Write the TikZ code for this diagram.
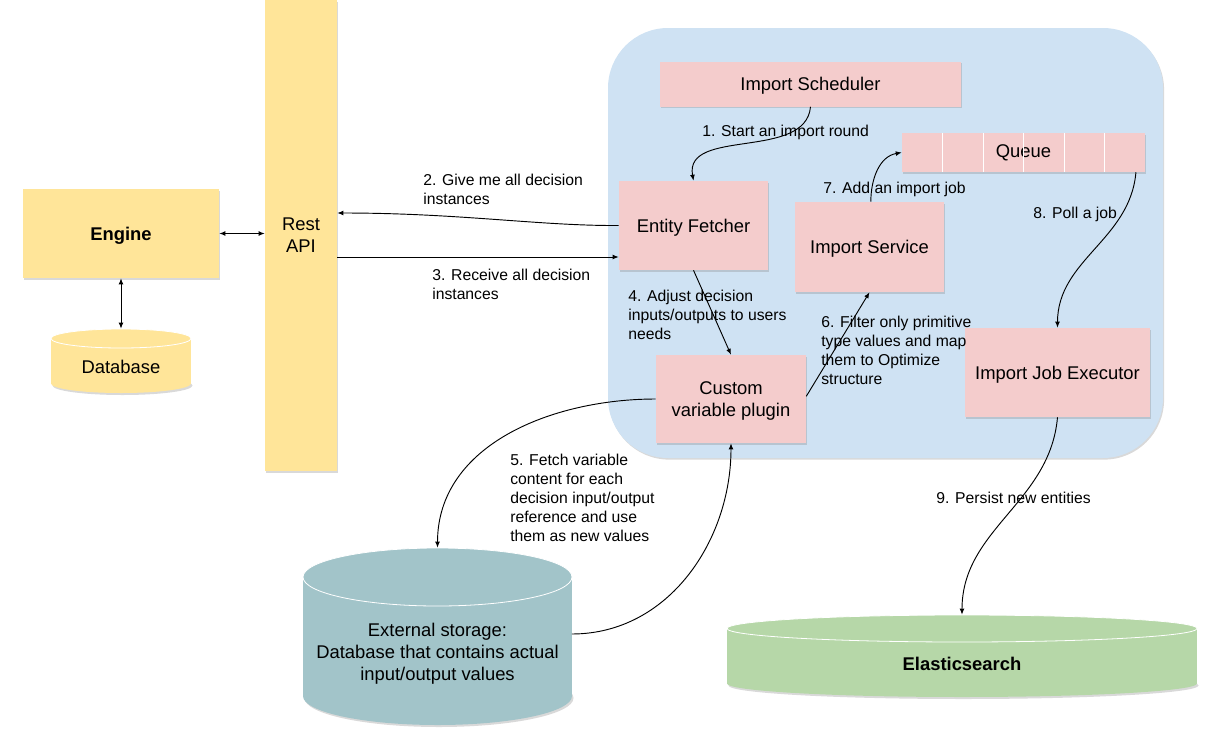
\documentclass[tikz,border=0pt]{standalone}
\usepackage{fontspec}
\setmainfont{Liberation Sans}
\usetikzlibrary{arrows.meta,shadows,calc}
\definecolor{engineyellow}{HTML}{FFE599}
\definecolor{boxpink}{HTML}{F4CCCC}
\definecolor{panelblue}{HTML}{CFE2F3}
\definecolor{storeteal}{HTML}{A2C4C9}
\definecolor{elasticgreen}{HTML}{B6D7A8}
\tikzset{
  lift/.style={drop shadow={shadow xshift=0.8pt,shadow yshift=-1.2pt,opacity=0.3}},
  part/.style={fill=boxpink,lift,inner sep=2pt,align=center,font=\fontsize{13.8}{16.5}\selectfont},
  lowered/.style={text height=12.9pt},
  yellowpart/.style={part,fill=engineyellow},
  drum/.style={inner sep=0pt,align=center,font=\fontsize{13.8}{16.5}\selectfont},
  note/.style={inner sep=0pt,anchor=west,align=left,font=\fontsize{11.8}{14.25}\selectfont},
  flow/.style={-{Latex[length=4.5pt,width=3.6pt]},line width=0.7pt},
  twoway/.style={{Latex[length=4.5pt,width=3.6pt]}-{Latex[length=4.5pt,width=3.6pt]},line width=0.7pt}
}
\newcommand{\dbdrum}[6]{%
  \fill[black,opacity=0.15] ({(#1+#2)/2+1.5},{#4-#5+2}) ellipse[x radius={(#2-#1)/2},y radius=#5];
  \fill[#6] (#1,{#3+#5}) rectangle (#2,{#4-#5});
  \fill[#6] ({(#1+#2)/2},{#4-#5}) ellipse[x radius={(#2-#1)/2},y radius=#5];
  \filldraw[#6,draw=white,line width=0.6pt] ({(#1+#2)/2},{#3+#5}) ellipse[x radius={(#2-#1)/2},y radius=#5];
}
\begin{document}
\begin{tikzpicture}[x=0.75pt,y=-0.75pt]
  \useasboundingbox (0,0) rectangle (1215,743);
  \fill[panelblue,rounded corners=45pt,lift] (608,28) rectangle (1163,458);

  \node[yellowpart,minimum width=54pt,minimum height=353.25pt] (rest) at (301,235.5) {Rest\\API};
  \node[yellowpart,lowered,minimum width=147pt,minimum height=66.75pt,font=\fontsize{13.8}{16.5}\selectfont\bfseries] (engine) at (121,233.5) {Engine};
  \dbdrum{51}{191}{329}{393}{9.5}{engineyellow}
  \node[drum,minimum width=105pt,minimum height=57pt] (db) at (121,367) {Database};

  \node[part,lowered,minimum width=225.75pt,minimum height=33.75pt] (sched) at (810.5,84) {Import Scheduler};
  \node[part,minimum width=182.25pt,minimum height=29.25pt] (queue) at (1023.5,152.5) {Queue};
  \foreach \k in {1,...,5}
    \draw[white,line width=0.6pt] ($(queue.north west)!\k/6!(queue.north east)$) -- ($(queue.south west)!\k/6!(queue.south east)$);
  \node[part,lowered,minimum width=111.75pt,minimum height=66.75pt] (fetch) at (693.5,225.5) {Entity Fetcher};
  \node[part,lowered,minimum width=111.75pt,minimum height=67.5pt] (service) at (869.5,247) {Import Service};
  \node[part,text height=29.4pt,minimum width=112.5pt,minimum height=66pt] (plugin) at (731,399) {Custom\\variable plugin};
  \node[part,lowered,minimum width=138.75pt,minimum height=66.75pt] (executor) at (1057.5,372.5) {Import Job Executor};

  \dbdrum{303}{572}{548}{725}{29}{storeteal}
  \node[drum,minimum width=201pt,minimum height=159pt] (ext) at (437.5,654) {External storage:\\Database that contains actual\\input/output values};
  \dbdrum{727}{1197}{615}{697}{13.5}{elasticgreen}
  \node[drum,minimum width=352.5pt,minimum height=73.5pt,font=\fontsize{13.8}{16.5}\selectfont\bfseries] (elastic) at (962,664) {Elasticsearch};

  \draw[twoway] (engine.east) -- (rest.west |- engine.east);
  \draw[twoway] (engine.south) -- (db.north);
  \draw[flow] (sched.south) to[out=-95,in=100] (fetch.north);
  \draw[flow] (fetch.west) .. controls (540,226) and (460,213) .. (rest.east |- 0,213);
  \draw[flow] (rest.east |- 0,257) -- (fetch.west |- 0,257);
  \draw[flow] (fetch.south) -- (plugin.north);
  \draw[flow] (plugin.west) to[out=180,in=90] (ext.north);
  \draw[flow] ([yshift=15pt]ext.east) to[out=0,in=-90] (plugin.south);
  \draw[flow] ([yshift=2pt]plugin.east) -- (service.south);
  \draw[flow] ([xshift=1pt]service.north) to[out=90,in=190] (queue.west);
  \draw[flow] ([xshift=-7pt]queue.south east) to[out=-95,in=90] (executor.north);
  \draw[flow] (executor.south) to[out=-95,in=90] (elastic.north);

  \node[note] (l1) at (702,132) {1. Start an import round};
  \node[note] (l2) at (423,189.5) {2. Give me all decision\\instances};
  \node[note] (l3) at (432,284.5) {3. Receive all decision\\instances};
  \node[note] (l4) at (628,314.5) {4. Adjust decision\\inputs/outputs to users\\needs};
  \node[note] (l5) at (510,498) {5. Fetch variable\\content for each\\decision input/output\\reference and use\\them as new values};
  \node[note] (l6) at (821,350) {6. Filter only primitive\\type values and map\\them to Optimize\\structure};
  \node[note] (l7) at (823,189) {7. Add an import job};
  \node[note] (l8) at (1033,214) {8. Poll a job};
  \node[note] (l9) at (936,498) {9. Persist new entities};
\end{tikzpicture}
\end{document}
